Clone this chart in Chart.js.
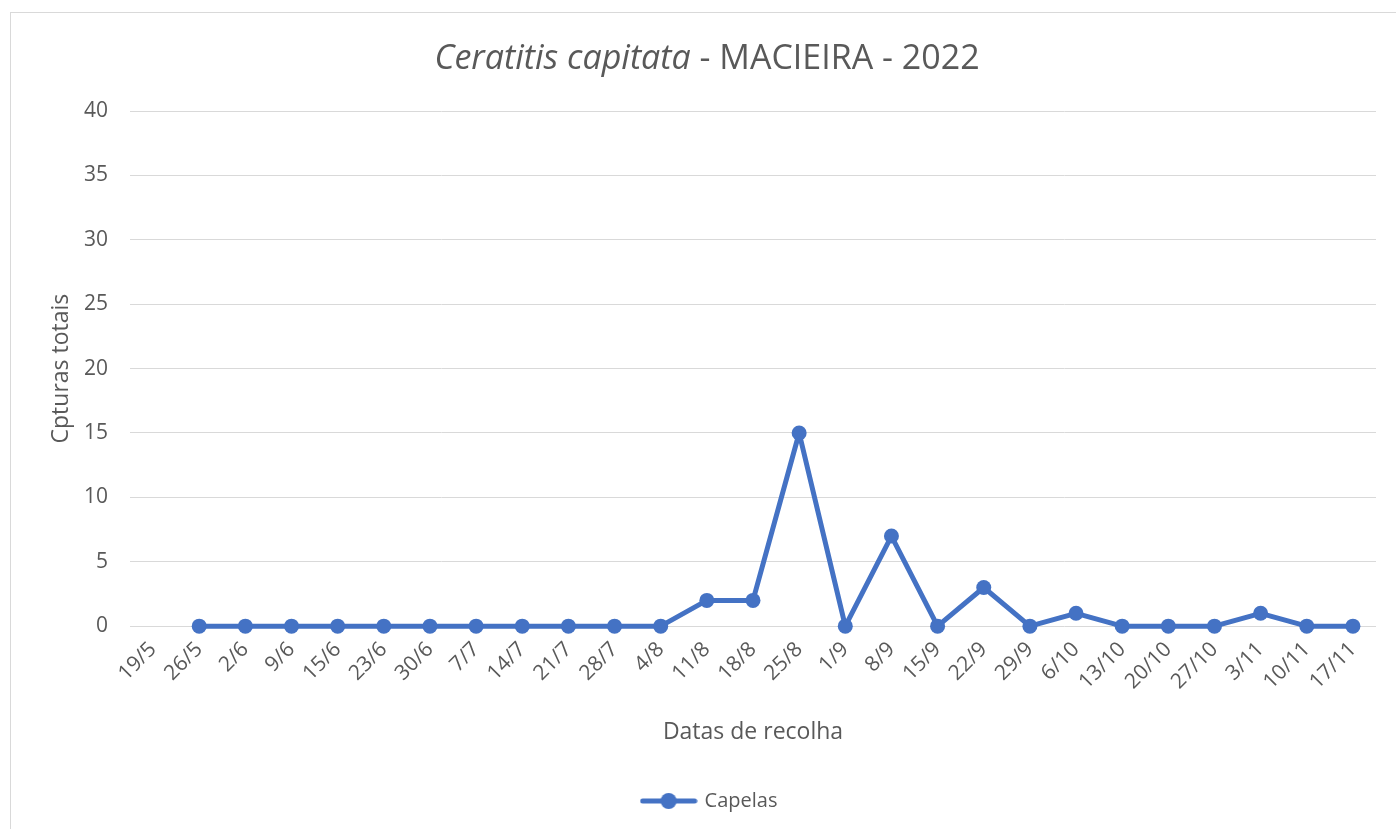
<!DOCTYPE html>
<html>
<head>
<meta charset="utf-8">
<script src="https://cdn.jsdelivr.net/npm/chart.js@4.4.0/dist/chart.umd.min.js"></script>
<style>
  html, body { margin: 0; padding: 0; background: #fff; overflow: hidden; }
  #wrap { position: absolute; left: 0; top: 0; width: 1396px; height: 829px; }
</style>
</head>
<body>
<div id="wrap"><canvas id="lineChart"></canvas></div>
<script>
const dates = ['19/5', '26/5', '2/6', '9/6', '15/6', '23/6', '30/6', '7/7', '14/7', '21/7', '28/7', '4/8',
  '11/8', '18/8', '25/8', '1/9', '8/9', '15/9', '22/9', '29/9', '6/10', '13/10', '20/10', '27/10',
  '3/11', '10/11', '17/11'];
const capelas = [null, 0, 0, 0, 0, 0, 0, 0, 0, 0, 0, 0,
  2, 2, 15, 0, 7, 0, 3, 0, 1, 0, 0, 0,
  1, 0, 0];
const yTicks = [0, 5, 10, 15, 20, 25, 30, 35, 40];

const blue = '#4472C4';
const grey = '#595959';
const font = "'Open Sans', 'Liberation Sans', sans-serif";

// legend symbol: short line with a dot, like the spreadsheet legend
const legendIcon = document.createElement('canvas');
legendIcon.width = 58;
legendIcon.height = 18;
const ic = legendIcon.getContext('2d');
ic.strokeStyle = blue;
ic.lineWidth = 5;
ic.lineCap = 'round';
ic.beginPath();
ic.moveTo(3, 9);
ic.lineTo(55, 9);
ic.stroke();
ic.fillStyle = blue;
ic.beginPath();
ic.arc(29, 9, 8, 0, Math.PI * 2);
ic.fill();

// frame and mixed-style title
const decor = {
  id: 'decor',
  beforeDraw(chart) {
    const c = chart.ctx;
    c.save();
    c.strokeStyle = '#d9d9d9';
    c.lineWidth = 1;
    c.strokeRect(10.5, 12.5, 1400, 830);
    c.restore();
  },
  afterDraw(chart) {
    const c = chart.ctx;
    c.save();
    c.fillStyle = grey;
    c.textBaseline = 'alphabetic';
    const italic = 'italic 34px ' + font;
    const normal = '34px ' + font;
    const a = 'Ceratitis capitata';
    const b = ' - MACIEIRA - 2022';
    c.font = italic;
    const wa = c.measureText(a).width;
    c.font = normal;
    const wb = c.measureText(b).width;
    const x0 = 707 - (wa + wb) / 2;
    c.font = italic;
    c.fillText(a, x0, 69);
    c.font = normal;
    c.fillText(b, x0 + wa, 69);
    c.restore();
  }
};

const ctx = document.getElementById('lineChart').getContext('2d');
new Chart(ctx, {
  type: 'line',
  data: {
    labels: dates,
    datasets: [{
      label: 'Capelas',
      data: capelas,
      borderColor: blue,
      backgroundColor: blue,
      borderWidth: 5,
      borderJoinStyle: 'round',
      borderCapStyle: 'round',
      pointRadius: 7.5,
      pointHoverRadius: 7.5,
      pointBackgroundColor: blue,
      pointBorderWidth: 0,
      tension: 0,
      spanGaps: false,
      clip: false
    }]
  },
  options: {
    responsive: true,
    maintainAspectRatio: false,
    animation: false,
    layout: {
      padding: { left: 44, right: 20, top: 111, bottom: 8 }
    },
    scales: {
      x: {
        offset: true,
        afterFit(axis) {
          // rotated first label fits inside the frame already
          axis.paddingLeft = 0;
          axis.paddingRight = 0;
        },
        grid: { display: false },
        border: { display: false },
        ticks: {
          color: grey,
          font: { family: font, size: 21 },
          maxRotation: 45,
          minRotation: 45,
          autoSkip: false,
          padding: 3
        },
        title: {
          display: true,
          text: 'Datas de recolha',
          color: grey,
          font: { family: font, size: 23 },
          padding: { top: 21, bottom: 15 }
        }
      },
      y: {
        min: 0,
        max: 40,
        afterBuildTicks(axis) {
          axis.ticks = yTicks.map(v => ({ value: v }));
        },
        afterFit(axis) {
          axis.width = 86;
        },
        grid: { color: '#d9d9d9', lineWidth: 1, drawTicks: false },
        border: { display: false },
        ticks: {
          color: grey,
          font: { family: font, size: 21 },
          padding: 22
        },
        title: {
          display: true,
          text: 'Cpturas totais',
          color: grey,
          font: { family: font, size: 23 },
          padding: { top: 4, bottom: 8 }
        }
      }
    },
    plugins: {
      title: { display: false },
      tooltip: { enabled: false },
      legend: {
        position: 'bottom',
        labels: {
          color: grey,
          font: { family: font, size: 20 },
          usePointStyle: true,
          pointStyleWidth: 52,
          padding: 30,
          generateLabels(chart) {
            return chart.data.datasets.map((ds, i) => ({
              text: ds.label,
              fillStyle: blue,
              strokeStyle: blue,
              fontColor: grey,
              lineWidth: 0,
              pointStyle: legendIcon,
              hidden: false,
              datasetIndex: i
            }));
          }
        }
      }
    }
  },
  plugins: [decor]
});
</script>
</body>
</html>
